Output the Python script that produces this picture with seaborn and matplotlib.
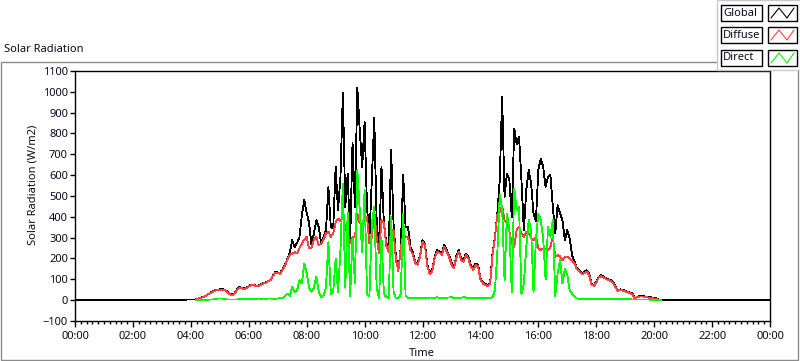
import matplotlib
matplotlib.use("Agg")
import matplotlib.pyplot as plt
from matplotlib.patches import Rectangle
from matplotlib.lines import Line2D
from matplotlib.ticker import MultipleLocator, FuncFormatter
import seaborn as sns
import pandas as pd
import numpy as np

# readings every 5 minutes, 04:10 .. 20:15 (W/m2)
start_time = "04:10"
step_minutes = 5

global_rad = (
    [3, 8, 12, 15, 20, 28, 35, 42, 48, 50]                                # 04h
    + [52, 53, 50, 42, 32, 26, 30, 50, 62, 60, 55, 60]                    # 05h
    + [68, 75, 74, 70, 70, 76, 82, 85, 92, 98, 118, 136]                  # 06h
    + [132, 130, 150, 168, 200, 225, 288, 255, 274, 302, 408, 480]        # 07h
    + [420, 370, 264, 320, 384, 350, 274, 300, 336, 542, 350, 345]        # 08h
    + [640, 432, 592, 993, 446, 608, 274, 755, 446, 1018, 816, 640]       # 09h
    + [854, 446, 302, 576, 874, 384, 230, 640, 370, 274, 240, 720]        # 10h
    + [368, 206, 144, 254, 600, 350, 350, 256, 230, 182, 176, 216]        # 11h
    + [288, 270, 170, 130, 144, 206, 240, 235, 224, 264, 240, 216]        # 12h
    + [180, 160, 210, 240, 200, 192, 224, 210, 168, 152, 176, 170]        # 13h
    + [106, 85, 78, 72, 80, 224, 300, 416, 576, 976, 496, 608]            # 14h
    + [576, 400, 824, 750, 784, 576, 336, 528, 624, 560, 416, 380]        # 15h
    + [624, 680, 640, 544, 592, 600, 448, 320, 456, 416, 384, 288]        # 16h
    + [336, 296, 216, 184, 152, 144, 130, 135, 144, 128, 80, 72]          # 17h
    + [88, 112, 120, 112, 106, 100, 96, 88, 64, 48, 52, 50]               # 18h
    + [46, 40, 36, 32, 8, 16, 20, 20, 18, 16, 14, 13]                     # 19h
    + [10, 8, 2, 0]                                                       # 20h
)

diffuse_rad = (
    [2, 7, 11, 14, 19, 27, 33, 40, 46, 48]
    + [50, 51, 48, 40, 30, 25, 28, 48, 60, 58, 53, 58]
    + [66, 72, 72, 68, 68, 74, 80, 83, 90, 96, 115, 132]
    + [130, 127, 146, 165, 195, 215, 224, 230, 224, 250, 272, 290]
    + [304, 248, 250, 290, 304, 264, 270, 290, 320, 330, 304, 320]
    + [374, 392, 380, 400, 350, 322, 272, 304, 304, 416, 368, 368]
    + [380, 400, 272, 300, 432, 300, 225, 384, 368, 260, 230, 336]
    + [336, 192, 140, 250, 320, 304, 304, 240, 220, 176, 170, 208]
    + [280, 262, 162, 125, 138, 198, 232, 228, 216, 255, 232, 208]
    + [172, 152, 202, 232, 192, 185, 216, 202, 160, 146, 168, 162]
    + [100, 80, 72, 68, 76, 215, 295, 410, 424, 450, 384, 368]
    + [330, 272, 256, 336, 352, 320, 304, 328, 320, 300, 288, 304]
    + [250, 240, 248, 244, 240, 256, 304, 208, 216, 210, 192, 208]
    + [210, 200, 190, 176, 148, 140, 125, 130, 138, 122, 76, 68]
    + [84, 108, 116, 108, 102, 96, 92, 84, 60, 45, 50, 46]
    + [43, 38, 33, 29, 6, 14, 18, 18, 16, 14, 12, 11]
    + [8, 6, 1, 0]
)

direct_rad = (
    [0, 1, 1, 2, 2, 2, 3, 3, 5, 8]
    + [8, 8, 6, 3, 3, 3, 3, 3, 5, 7, 7, 7]
    + [7, 7, 7, 7, 8, 7, 7, 7, 8, 8, 7, 7]
    + [8, 10, 10, 20, 32, 20, 62, 40, 45, 96, 80, 176]
    + [130, 60, 40, 60, 112, 40, 14, 20, 62, 278, 30, 40]
    + [200, 40, 240, 560, 60, 420, 20, 300, 80, 624, 432, 230]
    + [528, 30, 20, 368, 448, 60, 10, 300, 30, 15, 10, 400]
    + [40, 10, 10, 30, 416, 20, 12, 10, 10, 10, 12, 10]
    + [12, 10, 11, 13, 12, 11, 14, 12, 11, 10, 12, 13]
    + [14, 10, 8, 11, 12, 15, 12, 10, 9, 8, 10, 12]
    + [10, 12, 12, 10, 10, 14, 48, 224, 504, 440, 96, 416]
    + [336, 40, 536, 432, 448, 30, 80, 256, 384, 336, 40, 288]
    + [416, 384, 300, 100, 352, 304, 384, 20, 128, 192, 80, 152]
    + [120, 48, 30, 16, 8, 6, 6, 6, 5, 5, 5, 5]
    + [5, 5, 5, 5, 5, 5, 5, 4, 4, 4, 4, 4]
    + [4, 4, 4, 3, 3, 3, 3, 3, 3, 3, 3, 2]
    + [2, 2, 1, 0]
)

series_names = ["Global", "Diffuse", "Direct"]
series_colors = {"Global": "#000000", "Diffuse": "#ff4040", "Direct": "#00ff00"}

# time axis in hours
t0 = pd.Timestamp("2000-01-01 " + start_time)
stamps = pd.date_range(t0, periods=len(global_rad), freq=f"{step_minutes}min")
hours = ((stamps - pd.Timestamp("2000-01-01")) / pd.Timedelta(hours=1)).to_numpy()

# global curve is logged all day (zero at night)
frames = [
    pd.DataFrame({"hour": np.r_[0.0, hours, 24.0], "value": [0] + global_rad + [0], "series": "Global"}),
    pd.DataFrame({"hour": hours, "value": diffuse_rad, "series": "Diffuse"}),
    pd.DataFrame({"hour": hours, "value": direct_rad, "series": "Direct"}),
]
df = pd.concat(frames, ignore_index=True)

sns.set_style("white")
plt.rcParams["font.family"] = ["Noto Sans", "DejaVu Sans"]
txt_color = "#0a0a20"

W, H = 800, 361
fig = plt.figure(figsize=(W / 100, H / 100), dpi=100)

# outer panel frame
fig.patches.append(Rectangle((0.5 / W, 1 - 360 / H), 797 / W, (360 - 62) / H,
                             transform=fig.transFigure, fill=False,
                             edgecolor="#8a8a8a", lw=1, zorder=0))

ax = fig.add_axes([75 / W, 1 - 321 / H, 695 / W, 250 / H])
sns.lineplot(data=df, x="hour", y="value", hue="series", hue_order=series_names,
             palette=series_colors, estimator=None, sort=False, legend=False,
             lw=0.6, antialiased=False, ax=ax)

ax.set_xlim(0, 24)
ax.set_ylim(-100, 1100)
ax.xaxis.set_major_locator(MultipleLocator(2))
ax.xaxis.set_minor_locator(MultipleLocator(0.2))
ax.yaxis.set_major_locator(MultipleLocator(100))
ax.xaxis.set_major_formatter(FuncFormatter(lambda v, p: f"{int(round(v)) % 24:02d}:00"))
ax.tick_params(axis="x", which="major", direction="out", length=4.5, width=1,
               color="black", labelsize=8, labelcolor=txt_color, pad=3, bottom=True)
ax.tick_params(axis="x", which="minor", direction="out", length=2.2, width=1,
               color="black", bottom=True)
ax.tick_params(axis="y", which="major", direction="out", length=3.6, width=1,
               color="black", labelsize=8, labelcolor=txt_color, pad=1.5, left=True)
for s in ax.spines.values():
    s.set_color("black")
    s.set_linewidth(1)
ax.set_xlabel("")
ax.set_ylabel("")

fig.text(4 / W, 1 - 50 / H, "Solar Radiation", fontsize=8, color=txt_color, va="center", ha="left")
fig.text(33 / W, 1 - 185 / H, "Solar Radiation (W/m2)", fontsize=8, color=txt_color,
         rotation=90, va="center", ha="center")
fig.text(422 / W, 1 - 353 / H, "Time", fontsize=8, color=txt_color, va="center", ha="center")

# LabVIEW style plot legend, top right
fig.patches.append(Rectangle((717 / W, 1 - 70 / H), 83 / W, 70 / H, transform=fig.transFigure,
                             facecolor="white", edgecolor="#c8c8c8", lw=1, zorder=5))
row_tops = [5, 27, 50]
for name, top in zip(series_names, row_tops):
    y0 = 1 - (top + 16) / H
    fig.patches.append(Rectangle((721 / W, y0), 41 / W, 16 / H, transform=fig.transFigure,
                                 facecolor="white", edgecolor="black", lw=1, zorder=6))
    fig.patches.append(Rectangle((768 / W, y0), 29 / W, 16 / H, transform=fig.transFigure,
                                 facecolor="white", edgecolor="black", lw=1, zorder=6))
    fig.text(723 / W, 1 - (top + 8) / H, name, fontsize=8, color=txt_color,
             va="center", ha="left", zorder=7)
    zx = np.array([771, 779, 787, 794]) / W
    zy = 1 - (top + np.array([13, 3, 13, 3])) / H
    fig.lines.append(Line2D(zx, zy, transform=fig.transFigure, color=series_colors[name],
                            lw=0.8, zorder=7))

fig.savefig("out.png", dpi=100)
